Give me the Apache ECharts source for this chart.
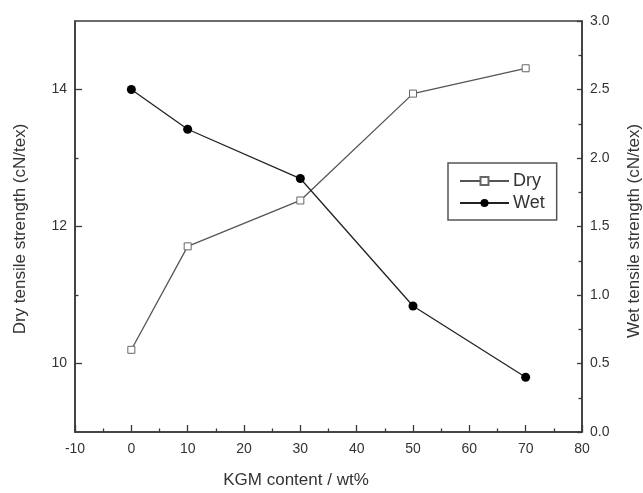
<!DOCTYPE html>
<html>
<head>
<meta charset="utf-8">
<script src="https://cdn.jsdelivr.net/npm/echarts@6/dist/echarts.min.js"></script>
<style>
  html, body { margin: 0; padding: 0; background: #fff; }
  #chart { width: 643px; height: 493px; }
</style>
</head>
<body>
<div id="chart"></div>
<script>
// KGM content (wt%)
const kgmContent = [0, 10, 30, 50, 70]
// dry tensile strength, left axis (cN/tex)
const dryValues = [10.2, 11.71, 12.38, 13.94, 14.31]
// wet tensile strength, right axis (cN/tex)
const wetValues = [2.5, 2.21, 1.85, 0.92, 0.4]
// labelled ticks on the left axis, minor ticks between them
const dryTickLabels = [10, 12, 14]
const dryMinorTicks = [11, 13]

const FONT = 'Liberation Sans, Arial, sans-serif'
const AXIS = '#3a3a3a'
const TEXT = '#333'

const chart = echarts.init(document.getElementById('chart'))

const pairs = vals => kgmContent.map((x, i) => [x, vals[i]])

const option = {
  backgroundColor: '#fff',
  animation: false,
  textStyle: { fontFamily: FONT },
  grid: {
    left: 75, right: 61, top: 21, bottom: 61,
    show: true, borderColor: AXIS, borderWidth: 1.5
  },
  legend: {
    orient: 'vertical',
    left: 448, top: 163,
    padding: [9, 12, 8, 11],
    itemGap: 4,
    itemWidth: 49,
    itemHeight: 10,
    borderColor: '#555', borderWidth: 1.5,
    textStyle: { fontFamily: FONT, fontSize: 18, color: TEXT, padding: [0, 0, 0, -1] },
    data: ['Dry', 'Wet']
  },
  xAxis: {
    type: 'value',
    min: -10, max: 80, interval: 10,
    axisLine: { show: true, onZero: false, lineStyle: { color: AXIS, width: 1.5 } },
    axisTick: { inside: true, length: 7, lineStyle: { color: AXIS, width: 1.3 } },
    minorTick: { show: true, splitNumber: 2, length: 3.5, lineStyle: { color: AXIS, width: 1.3 } },
    axisLabel: { fontSize: 14, color: TEXT, margin: 10 },
    splitLine: { show: false }
  },
  yAxis: [
    {
      type: 'value', position: 'left',
      min: 9, max: 15, interval: 1,
      axisLine: { show: true, onZero: false, lineStyle: { color: AXIS, width: 1.5 } },
      axisTick: { inside: true, length: 7, customValues: dryTickLabels, lineStyle: { color: AXIS, width: 1.3 } },
      axisLabel: { fontSize: 14, color: TEXT, margin: 8, customValues: dryTickLabels },
      splitLine: { show: false }
    },
    {
      type: 'value', position: 'right',
      min: 0, max: 3, interval: 0.5,
      axisLine: { show: true, onZero: false, lineStyle: { color: AXIS, width: 1.5 } },
      axisTick: { inside: true, length: 5, lineStyle: { color: AXIS, width: 1.3 } },
      minorTick: { show: true, splitNumber: 2, length: 3.5, lineStyle: { color: AXIS, width: 1.3 } },
      axisLabel: { fontSize: 14, color: TEXT, margin: 8, formatter: v => v.toFixed(1) },
      splitLine: { show: false }
    },
    {
      // minor ticks for the left axis only
      type: 'value', position: 'left', offset: 0,
      min: 9, max: 15, interval: 1,
      axisLine: { show: false, onZero: false },
      axisTick: { show: true, inside: true, length: 3.5, customValues: dryMinorTicks, lineStyle: { color: AXIS, width: 1.3 } },
      axisLabel: { show: false },
      splitLine: { show: false }
    }
  ],
  series: [
    {
      name: 'Dry', type: 'line', yAxisIndex: 0,
      data: pairs(dryValues),
      symbol: 'rect', symbolSize: 7,
      itemStyle: { color: '#fff', borderColor: '#666', borderWidth: 1 },
      lineStyle: { color: '#555', width: 1.3 }
    },
    {
      name: 'Wet', type: 'line', yAxisIndex: 1,
      data: pairs(wetValues),
      symbol: 'circle', symbolSize: 9,
      itemStyle: { color: '#000' },
      lineStyle: { color: '#222', width: 1.3 }
    }
  ],
  graphic: [
    {
      type: 'text', x: 296, y: 480,
      style: { text: 'KGM content / wt%', fontFamily: FONT, fontSize: 17, fill: TEXT, align: 'center', verticalAlign: 'middle' }
    },
    {
      type: 'text', x: 20, y: 229, rotation: Math.PI / 2,
      style: { text: 'Dry tensile strength (cN/tex)', fontFamily: FONT, fontSize: 17, fill: TEXT, align: 'center', verticalAlign: 'middle' }
    },
    {
      type: 'text', x: 634, y: 231, rotation: Math.PI / 2,
      style: { text: 'Wet tensile strength (cN/tex)', fontFamily: FONT, fontSize: 17, fill: TEXT, align: 'center', verticalAlign: 'middle' }
    }
  ]
}

chart.setOption(option)
</script>
</body>
</html>
